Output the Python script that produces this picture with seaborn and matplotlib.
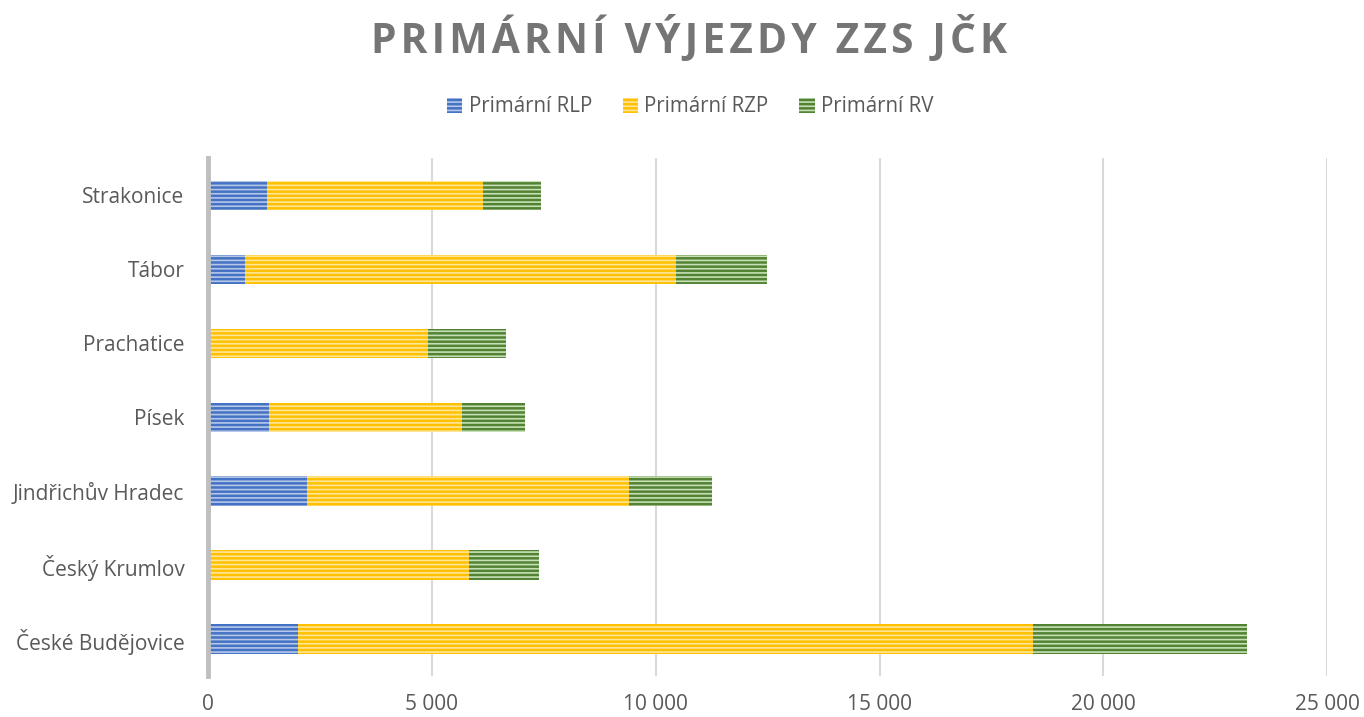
import matplotlib
matplotlib.use("Agg")
import matplotlib.pyplot as plt
import seaborn as sns
import pandas as pd
from matplotlib.patches import Patch

# data
okresy = ["Strakonice", "Tábor", "Prachatice", "Písek",
          "Jindřichův Hradec", "Český Krumlov", "České Budějovice"]
rlp = [1320, 830, 0, 1360, 2210, 0, 2010]
rzp = [4820, 9630, 4920, 4310, 7200, 5830, 16420]
rv = [1300, 2030, 1740, 1410, 1850, 1560, 4780]
serie = ["Primární RLP", "Primární RZP", "Primární RV"]
xticks = [0, 5000, 10000, 15000, 20000, 25000]

barvy = ["#4472c4", "#ffc000", "#548235"]
svetle = ["#b4c7e7", "#ffe699", "#c5e0b4"]

sns.set_theme(style="white")
plt.rcParams["font.family"] = ["Open Sans", "DejaVu Sans"]
plt.rcParams["hatch.linewidth"] = 1.2

df = pd.DataFrame({"okres": okresy, "rlp": rlp, "rzp": rzp, "rv": rv})
df["s1"] = df["rlp"]
df["s2"] = df["rlp"] + df["rzp"]
df["s3"] = df["s2"] + df["rv"]

fig = plt.figure(figsize=(13.64, 7.17), dpi=100)
ax = fig.add_axes([0.1525, 0.057, 0.8205, 0.722])

# stacked bars: draw totals first, then smaller sums on top
for col, barva, sv in [("s3", barvy[2], svetle[2]), ("s2", barvy[1], svetle[1]), ("s1", barvy[0], svetle[0])]:
    n0 = len(ax.patches)
    sns.barplot(data=df, x=col, y="okres", order=okresy, color=barva,
                width=0.4, ax=ax, orient="h", saturation=1)
    for p in ax.patches[n0:]:
        p.set_facecolor(barva)
        p.set_edgecolor(sv)
        p.set_linewidth(0)
        p.set_hatch("----")

ax.set_xlim(0, 25000)
ax.set_ylim(6.5, -0.5)
ax.set_xticks(xticks)
ax.set_xticklabels([f"{v:,}".replace(",", " ") for v in xticks])
ax.set_xlabel("")
ax.set_ylabel("")
ax.tick_params(axis="both", labelsize=15, labelcolor="#595959", length=0)
ax.tick_params(axis="x", pad=13)
ax.tick_params(axis="y", pad=17)
ax.xaxis.grid(True, color="#d9d9d9", linewidth=1.5)
ax.set_axisbelow(True)
for s in ["top", "right", "bottom"]:
    ax.spines[s].set_visible(False)
ax.spines["left"].set_color("#bfbfbf")
ax.spines["left"].set_linewidth(3.5)

# legend
handles = [Patch(facecolor=barvy[i], edgecolor=svetle[i], linewidth=0, hatch="----", label=serie[i])
           for i in range(3)]
fig.legend(handles=handles, loc="center", bbox_to_anchor=(0.506, 0.851), ncol=3, frameon=False,
           fontsize=14.8, labelcolor="#595959", handlelength=0.75, handleheight=0.75,
           handletextpad=0.3, columnspacing=1.5)

# title with wider letter spacing
nadpis = "PRIMÁRNÍ VÝJEZDY ZZS JČK"
fig.text(0.505, 0.945, "\u200a".join(nadpis), ha="center", va="center", fontsize=29.3,
         fontweight="bold", color="#757575")

fig.savefig("out.png", dpi=100)
